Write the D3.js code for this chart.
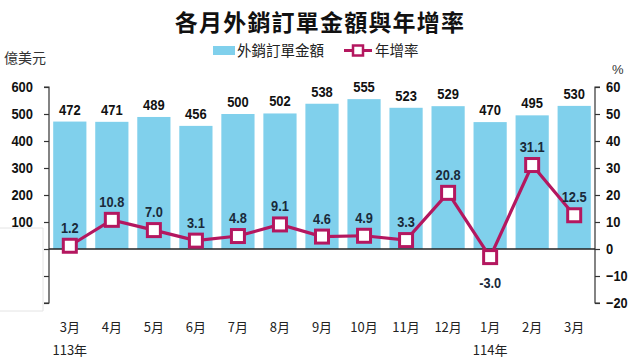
<!DOCTYPE html>
<html><head><meta charset="utf-8">
<script src="https://cdn.jsdelivr.net/npm/d3@7/dist/d3.min.js"></script>
<style>
html,body{margin:0;padding:0;background:#fff;}
svg{display:block;}
</style></head>
<body>
<svg id="c" width="640" height="360"></svg>
<script>
const months = ["3月","4月","5月","6月","7月","8月","9月","10月","11月","12月","1月","2月","3月"];
const years = [{idx:0,label:"113年"},{idx:10,label:"114年"}];
const orders = [472,471,489,456,500,502,538,555,523,529,470,495,530];
const growth = [1.2,10.8,7.0,3.1,4.8,9.1,4.6,4.9,3.3,20.8,-3.0,31.1,12.5];
const leftTicks = [600,500,400,300,200,100,0,-100,-200];
const leftLabels = [600,500,400,300,200,100];
const rightTicks = [60,50,40,30,20,10,0,-10,-20];

const svg = d3.select("#c");
const numFont = "'Liberation Sans','Arial',sans-serif";
const cjk = "'Noto Sans CJK TC','Noto Sans CJK SC',sans-serif";
const barColor = "#80d0ec";
const lineColor = "#b4175f";

// condensed numeric width estimate
const numW = s => { let w = 0; for (const c of String(s)) w += (c === "." ? 3.4 : c === "-" ? 4.2 : 7.2); return w; };
function condense(sel) {
  sel.attr("textLength", function() { return numW(this.textContent); }).attr("lengthAdjust", "spacingAndGlyphs");
}

const x0 = 49, x1 = 595;
const x = d3.scaleBand().domain(d3.range(months.length)).range([x0, x1]).paddingInner(0.21).paddingOuter(0.1);
const yL = d3.scaleLinear().domain([-200, 600]).range([303, 87]);
const yR = d3.scaleLinear().domain([-20, 60]).range([303, 87]);

// faint artifact box on the left
svg.append("path").attr("d", "M0,228H43V311H0").attr("fill","none").attr("stroke","#e4e4e4").attr("stroke-width",1);

// title
svg.append("text").attr("x", 320).attr("y", 31).attr("text-anchor","middle")
  .attr("font-family", cjk).attr("font-weight","bold").attr("font-size", 23).attr("letter-spacing", 1.2)
  .attr("fill","#111").text("各月外銷訂單金額與年增率");

// legend
svg.append("rect").attr("x", 213).attr("y", 46).attr("width", 22).attr("height", 9).attr("fill", barColor);
svg.append("text").attr("x", 237).attr("y", 55.5).attr("font-family", cjk).attr("font-size", 14.5).attr("fill","#222").text("外銷訂單金額");
svg.append("line").attr("x1", 344).attr("x2", 372).attr("y1", 50.5).attr("y2", 50.5).attr("stroke", lineColor).attr("stroke-width", 3);
svg.append("rect").attr("x", 353).attr("y", 45.5).attr("width", 10).attr("height", 10).attr("fill","#fff").attr("stroke", lineColor).attr("stroke-width", 2.5);
svg.append("text").attr("x", 375).attr("y", 55.5).attr("font-family", cjk).attr("font-size", 14.5).attr("fill","#222").text("年增率");

// unit labels
svg.append("text").attr("x", 4).attr("y", 63).attr("font-family", cjk).attr("font-size", 14).attr("fill","#333").text("億美元");
svg.append("text").attr("x", 612).attr("y", 74).attr("font-family", "'Liberation Sans',sans-serif").attr("font-size", 13).attr("fill","#333").text("%");

// bars
svg.append("g").selectAll("rect").data(orders).join("rect")
  .attr("x", (d,i) => x(i)).attr("width", x.bandwidth())
  .attr("y", d => yL(d)).attr("height", d => yL(0) - yL(d))
  .attr("fill", barColor);

svg.append("g").selectAll("text").data(orders).join("text")
  .attr("x", (d,i) => x(i) + x.bandwidth()/2).attr("y", d => yL(d) - 7)
  .attr("text-anchor","middle").attr("font-family", numFont).attr("font-weight","bold")
  .attr("font-size", 15).attr("fill","#111").text(d => d).call(condense);

// left axis
const axL = d3.axisLeft(yL).tickValues(leftTicks).tickSize(5).tickFormat("");
const gL = svg.append("g").attr("transform", `translate(${x0},0)`).call(axL);
gL.select(".domain").attr("d", `M-5,${yL(600)}H0V${yL(-200)}H-5`);
gL.selectAll("line,path").attr("stroke","#333").attr("stroke-width",1.2);
svg.append("g").selectAll("text").data(leftLabels).join("text")
  .attr("x", 33).attr("y", d => yL(d) + 5).attr("text-anchor","end")
  .attr("font-family", numFont).attr("font-weight","bold").attr("font-size", 15).attr("fill","#111").text(d => d).call(condense);

// right axis
const axR = d3.axisRight(yR).tickValues(rightTicks).tickSize(5).tickPadding(6).tickFormat(d3.format("d"));
const gR = svg.append("g").attr("transform", `translate(${x1},0)`).call(axR);
gR.select(".domain").attr("d", `M5,${yR(60)}H0V${yR(-20)}H5`);
gR.selectAll("line,path").attr("stroke","#333").attr("stroke-width",1.2);
gR.selectAll("text").attr("font-family", numFont).attr("font-weight","bold").attr("font-size", 15).attr("fill","#111").call(condense);

// zero line
svg.append("line").attr("x1", x0).attr("x2", x1).attr("y1", yL(0)).attr("y2", yL(0)).attr("stroke","#222").attr("stroke-width",1.5);

// growth line
const cx = i => x(i) + x.bandwidth()/2;
svg.append("path").datum(growth)
  .attr("d", d3.line().x((d,i) => cx(i)).y(d => yR(d)))
  .attr("fill","none").attr("stroke", lineColor).attr("stroke-width", 3.2);
svg.append("g").selectAll("rect").data(growth).join("rect")
  .attr("x", (d,i) => cx(i) - 6.5).attr("y", d => yR(d) - 6.5).attr("width", 13).attr("height", 13)
  .attr("fill","#fff").attr("stroke", lineColor).attr("stroke-width", 3);
svg.append("g").selectAll("text").data(growth).join("text")
  .attr("x", (d,i) => cx(i)).attr("y", d => d < 0 ? yR(d) + 31 : yR(d) - 13)
  .attr("text-anchor","middle").attr("font-family", numFont).attr("font-weight","bold")
  .attr("font-size", 15).attr("fill","#1a2a3a").text(d => d.toFixed(1)).call(condense);

// month labels
svg.append("g").selectAll("text").data(months).join("text")
  .attr("x", (d,i) => cx(i)).attr("y", 332).attr("text-anchor","middle")
  .attr("font-family", cjk).attr("font-size", 13).attr("fill","#222").text(d => d);
svg.append("g").selectAll("text").data(years).join("text")
  .attr("x", d => cx(d.idx)).attr("y", 355).attr("text-anchor","middle")
  .attr("font-family", cjk).attr("font-size", 13).attr("fill","#222").text(d => d.label);
</script>
</body></html>
